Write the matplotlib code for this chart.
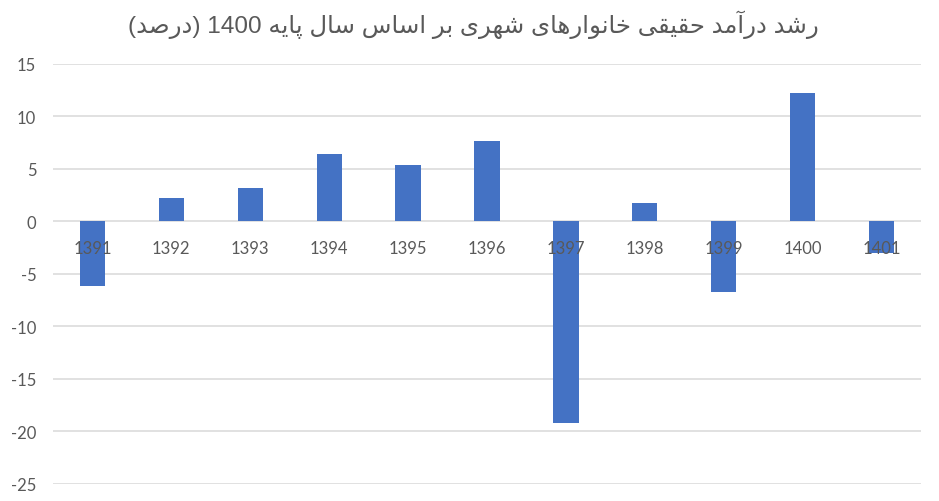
import re
import matplotlib
matplotlib.use("Agg")
import matplotlib.pyplot as plt

# داده‌ها
years = ['1391', '1392', '1393', '1394', '1395', '1396',
         '1397', '1398', '1399', '1400', '1401']
growth = [-6.1, 2.2, 3.2, 6.4, 5.4, 7.7, -19.2, 1.8, -6.7, 12.2, -3.0]
yticks = [15, 10, 5, 0, -5, -10, -15, -20, -25]
title = 'رشد درآمد حقیقی خانوارهای شهری بر اساس سال پایه 1400 (درصد)'

plt.rcParams['axes.unicode_minus'] = False

# matplotlib has no Arabic shaping, so pick presentation forms by hand
# letter: (isolated, final, initial, medial); right-joining letters have only 2
forms = {
    'ا': ('\uFE8D', '\uFE8E'), 'آ': ('\uFE81', '\uFE82'),
    'د': ('\uFEA9', '\uFEAA'), 'ر': ('\uFEAD', '\uFEAE'),
    'و': ('\uFEED', '\uFEEE'),
    'ب': ('\uFE8F', '\uFE90', '\uFE91', '\uFE92'),
    'پ': ('\uFB56', '\uFB57', '\uFB58', '\uFB59'),
    'ح': ('\uFEA1', '\uFEA2', '\uFEA3', '\uFEA4'),
    'خ': ('\uFEA5', '\uFEA6', '\uFEA7', '\uFEA8'),
    'س': ('\uFEB1', '\uFEB2', '\uFEB3', '\uFEB4'),
    'ش': ('\uFEB5', '\uFEB6', '\uFEB7', '\uFEB8'),
    'ص': ('\uFEB9', '\uFEBA', '\uFEBB', '\uFEBC'),
    'ق': ('\uFED5', '\uFED6', '\uFED7', '\uFED8'),
    'ل': ('\uFEDD', '\uFEDE', '\uFEDF', '\uFEE0'),
    'م': ('\uFEE1', '\uFEE2', '\uFEE3', '\uFEE4'),
    'ن': ('\uFEE5', '\uFEE6', '\uFEE7', '\uFEE8'),
    'ه': ('\uFEE9', '\uFEEA', '\uFEEB', '\uFEEC'),
    'ی': ('\uFBFC', '\uFBFD', '\uFBFE', '\uFBFF'),
}
lam_alef = {'ا': ('\uFEFB', '\uFEFC'), 'آ': ('\uFEF5', '\uFEF6')}


def shape(text):
    # merge lam + alef into one right-joining unit
    units = []
    i = 0
    while i < len(text):
        c = text[i]
        if c == 'ل' and i + 1 < len(text) and text[i + 1] in lam_alef:
            units.append(('LA', text[i + 1]))
            i += 2
        else:
            units.append((c, None))
            i += 1

    def dual(u):
        return u[0] in forms and len(forms[u[0]]) == 4

    def letter(u):
        return u[0] in forms or u[0] == 'LA'

    out = []
    for k, u in enumerate(units):
        prev_j = k > 0 and dual(units[k - 1])
        next_j = k + 1 < len(units) and letter(units[k + 1])
        if u[0] == 'LA':
            out.append(lam_alef[u[1]][1 if prev_j else 0])
        elif u[0] in forms:
            f = forms[u[0]]
            if len(f) == 2:
                out.append(f[1 if prev_j else 0])
            elif prev_j and next_j:
                out.append(f[3])
            elif prev_j:
                out.append(f[1])
            elif next_j:
                out.append(f[2])
            else:
                out.append(f[0])
        else:
            out.append(u[0])
    s = ''.join(out)[::-1]
    s = s.translate(str.maketrans('()', ')('))
    return re.sub(r'\d+', lambda m: m.group(0)[::-1], s)


fig = plt.figure(figsize=(9.39, 5.02), dpi=100)
ax = fig.add_axes([0.0564, 0.0339, 0.9244, 0.8367])

ax.bar(range(len(years)), growth, width=0.32, color='#4472C4', zorder=2)

ax.set_xlim(-0.5, len(years) - 0.5)
ax.set_ylim(-25, 15)
ax.set_yticks(yticks)
ax.set_xticks(range(len(years)))
ax.set_xticklabels(years)
ax.grid(axis='y', color='#D9D9D9', linewidth=1.1)
ax.set_axisbelow(True)
ax.xaxis.set_zorder(5)  # year labels sit on top of the bars

for sp in ['top', 'right', 'left']:
    ax.spines[sp].set_visible(False)
ax.spines['bottom'].set_position('zero')
ax.spines['bottom'].set_visible(False)

ax.tick_params(axis='both', length=0, labelsize=12, labelcolor='#595959')
ax.tick_params(axis='x', pad=13)
ax.tick_params(axis='y', pad=12)
for lab in ax.get_xticklabels() + ax.get_yticklabels():
    lab.set_fontfamily(['Lato', 'DejaVu Sans'])

fig.text(0.504, 0.95, shape(title), ha='center', va='center', fontsize=17.6,
         color='#595959', family=['Liberation Sans', 'DejaVu Sans'])

fig.savefig('out.png', dpi=100)
